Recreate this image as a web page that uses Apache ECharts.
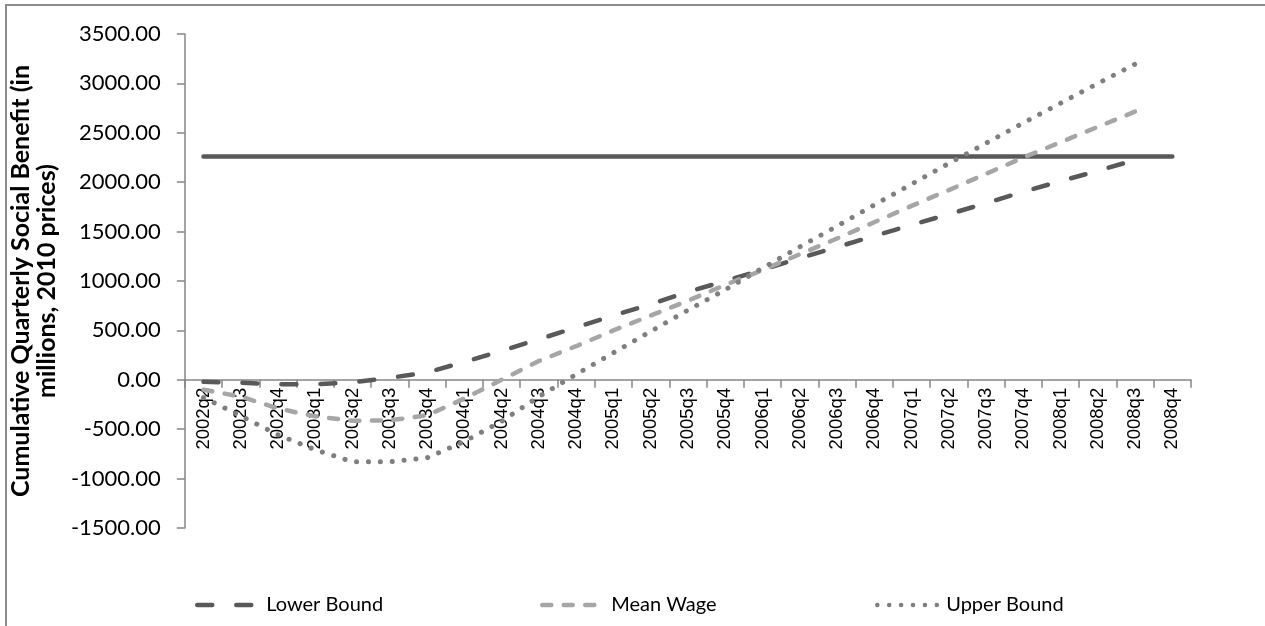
<!DOCTYPE html>
<html>
<head>
<meta charset="utf-8">
<script src="https://cdn.jsdelivr.net/npm/echarts@6/dist/echarts.min.js"></script>
<style>
  html, body { margin: 0; padding: 0; background: #fff; }
  #chart { width: 1265px; height: 626px; }
</style>
</head>
<body>
<div id="chart"></div>
<script>
// quarters on the x axis
const quarters = [
  "2002q2", "2002q3", "2002q4", "2003q1", "2003q2", "2003q3", "2003q4",
  "2004q1", "2004q2", "2004q3", "2004q4", "2005q1", "2005q2", "2005q3",
  "2005q4", "2006q1", "2006q2", "2006q3", "2006q4", "2007q1", "2007q2",
  "2007q3", "2007q4", "2008q1", "2008q2", "2008q3", "2008q4"
];

// cumulative benefit (2002q2 .. 2008q3)
const lowerBound = [
  -20, -30, -45, -45, -25, 20, 75, 180, 293, 410, 530, 650, 765,
  890, 1000, 1113, 1231, 1343, 1456, 1567, 1676, 1788, 1903, 2011, 2115, 2225
];
const meanWage = [
  -100, -170, -290, -370, -415, -410, -360, -190, 0, 190, 340, 500, 650,
  800, 960, 1110, 1270, 1430, 1595, 1760, 1920, 2085, 2250, 2405, 2560, 2715
];
const upperBound = [
  -180, -365, -557, -708, -830, -830, -790, -624, -420, -170, 55, 273, 490,
  705, 911, 1130, 1345, 1555, 1770, 1980, 2190, 2395, 2600, 2800, 3000, 3195
];
// flat solid line across every quarter
const costLine = [
  2260, 2260, 2260, 2260, 2260, 2260, 2260, 2260, 2260, 2260, 2260, 2260, 2260, 2260,
  2260, 2260, 2260, 2260, 2260, 2260, 2260, 2260, 2260, 2260, 2260, 2260, 2260
];

const yMin = -1500;
const yMax = 3500;

let myChart = echarts.init(document.getElementById("chart"));

const axisGray = "#868686";
const gridTop = 34;
const gridBottom = 98;
const plotH = 626 - gridTop - gridBottom;
// move the category axis up to the zero line
const zeroOffset = -plotH * (0 - yMin) / (yMax - yMin);

// one legend per item so each can sit where the original has it
function legendAt(name, left) {
  return {
    data: [name],
    left: left,
    bottom: 6,
    itemWidth: 64,
    itemHeight: 14,
    itemStyle: { opacity: 0 },
    lineStyle: { width: 4.5, cap: "round" },
    textStyle: { fontFamily: "Lato", fontSize: 20, color: "#000" }
  };
}

myChart.setOption({
  animation: false,
  graphic: [
    {
      type: "rect",
      shape: { x: 6, y: 5, width: 1270, height: 640 },
      style: { fill: "none", stroke: "#8c8c8c", lineWidth: 2 },
      silent: true
    }
  ],
  grid: { left: 184, right: 74, top: gridTop, bottom: gridBottom },
  legend: [
    legendAt("Lower Bound", 190),
    legendAt("Mean Wage", 535),
    legendAt("Upper Bound", 870)
  ],
  xAxis: {
    type: "category",
    data: quarters,
    boundaryGap: true,
    offset: zeroOffset,
    axisLine: { onZero: false, lineStyle: { color: axisGray, width: 1.5 } },
    axisTick: { show: true, length: 8, lineStyle: { color: axisGray, width: 1.5 } },
    axisLabel: {
      rotate: 90,
      interval: 0,
      margin: 8,
      fontFamily: "Liberation Sans",
      fontSize: 18.5,
      color: "#000"
    },
    splitLine: { show: false }
  },
  yAxis: {
    type: "value",
    min: yMin,
    max: yMax,
    interval: 500,
    name: "Cumulative Quarterly Social Benefit (in\nmillions, 2010 prices)",
    nameLocation: "middle",
    nameGap: 117,
    nameTextStyle: {
      fontFamily: "Lato",
      fontWeight: "bold",
      fontSize: 25,
      lineHeight: 26,
      color: "#000"
    },
    axisLine: { show: true, lineStyle: { color: axisGray, width: 1.5 } },
    axisTick: { show: true, length: 8, lineStyle: { color: axisGray, width: 1.5 } },
    axisLabel: {
      margin: 24,
      fontFamily: "Lato",
      fontSize: 22,
      color: "#000",
      formatter: (v) => v.toFixed(2)
    },
    splitLine: { show: false }
  },
  series: [
    {
      name: "Cost",
      type: "line",
      data: costLine,
      symbol: "none",
      lineStyle: { color: "#595959", width: 4.5, cap: "round" },
      itemStyle: { color: "#595959" },
      z: 1
    },
    {
      name: "Lower Bound",
      type: "line",
      data: lowerBound,
      symbol: "none",
      lineStyle: { color: "#595959", width: 4.5, type: [15, 24], cap: "round" },
      itemStyle: { color: "#595959" },
      z: 2
    },
    {
      name: "Mean Wage",
      type: "line",
      data: meanWage,
      symbol: "none",
      lineStyle: { color: "#a6a6a6", width: 4.5, type: [9, 12.5], cap: "round" },
      itemStyle: { color: "#a6a6a6" },
      z: 3
    },
    {
      name: "Upper Bound",
      type: "line",
      data: upperBound,
      symbol: "none",
      lineStyle: { color: "#7f7f7f", width: 5, type: [0.1, 11.8], cap: "round" },
      itemStyle: { color: "#7f7f7f" },
      z: 4
    }
  ]
});
</script>
</body>
</html>
